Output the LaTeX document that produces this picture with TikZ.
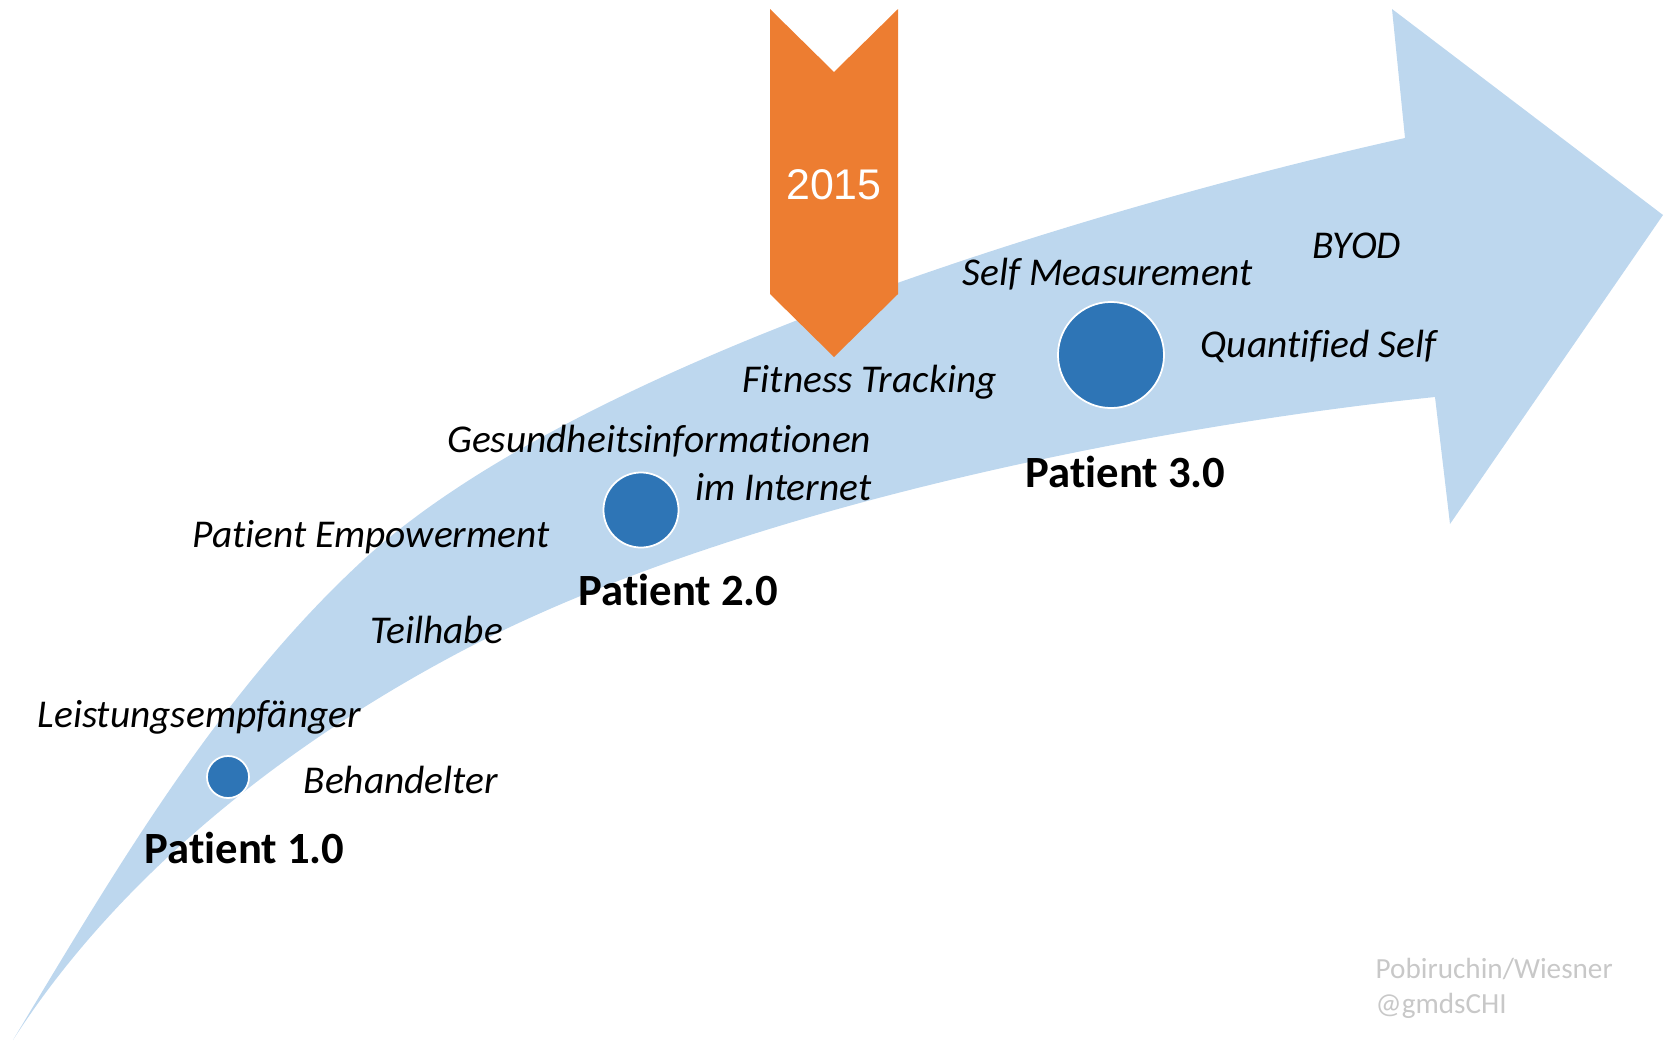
\documentclass[tikz,border=0pt]{standalone}
\usepackage{fontspec}
\setmainfont{Carlito}[Ligatures={NoCommon,NoContextual}]
\newfontfamily\yearfont{Liberation Sans}
\definecolor{bandblue}{RGB}{189,215,238}
\definecolor{dotblue}{RGB}{46,117,182}
\definecolor{bannerorange}{RGB}{237,125,49}
\definecolor{markgray}{RGB}{200,200,200}
\begin{document}
\begin{tikzpicture}[x=0.01cm,y=-0.01cm,
  keyword/.style={font=\fontsize{11.2}{13}\selectfont\itshape,inner sep=0pt,anchor=base west},
  stage/.style={font=\fontsize{12.7}{15}\selectfont\bfseries,inner sep=0pt,anchor=base west},
  milestone/.style={circle,fill=dotblue,draw=white,line width=0.5pt,inner sep=0pt},
  credit/.style={font=\fontsize{8.3}{10}\selectfont,text=markgray,inner sep=0pt,anchor=base west}]
\useasboundingbox (0,0) rectangle (1669,1042);
\fill[bandblue] (13,1040) .. controls (115,871) and (216,697) .. (360,563)
  .. controls (579,359) and (1112,203) .. (1405,138)
  -- (1392,9) -- (1663,215) -- (1450,524) -- (1435,397)
  .. controls (1137,428) and (725,512) .. (460,652)
  .. controls (286,744) and (119,875) .. (13,1040) -- cycle;
\fill[bannerorange] (770,9) -- (834,72) -- (898,9) -- (898,294) -- (834,357) -- (770,294) -- cycle;
\node[font=\yearfont\fontsize{12.2}{14}\selectfont,text=white,inner sep=0pt,anchor=base] (year) at (834,199) {2015};
\node[milestone,minimum size=0.42cm] (p1) at (228,777) {};
\node[milestone,minimum size=0.75cm] (p2) at (641,510) {};
\node[milestone,minimum size=1.06cm] (p3) at (1111,355) {};
\node[keyword] (leistung) at (37,727) {Leistungsempfänger};
\node[keyword] (behandelt) at (303,793) {Behandelter};
\node[stage] (pat1) at (144,863) {Patient 1.0};
\node[keyword] (teilhabe) at (370,643) {Teilhabe};
\node[keyword] (empower) at (192,547) {Patient Empowerment};
\node[keyword,anchor=base east] (gesund) at (872,452) {Gesundheitsinformationen};
\node[keyword,anchor=base east] (internet) at (872,500) {im Internet};
\node[stage] (pat2) at (578,605) {Patient 2.0};
\node[keyword] (fitness) at (742,392) {Fitness Tracking};
\node[keyword] (selfmeas) at (962,285) {Self Measurement};
\node[keyword] (byod) at (1312,258) {BYOD};
\node[keyword] (quant) at (1200,357) {Quantified Self};
\node[stage] (pat3) at (1025,487) {Patient 3.0};
\node[credit] (authors) at (1375,978) {Pobiruchin/Wiesner};
\node[credit] (handle) at (1375,1013) {@gmdsCHI};
\end{tikzpicture}
\end{document}
